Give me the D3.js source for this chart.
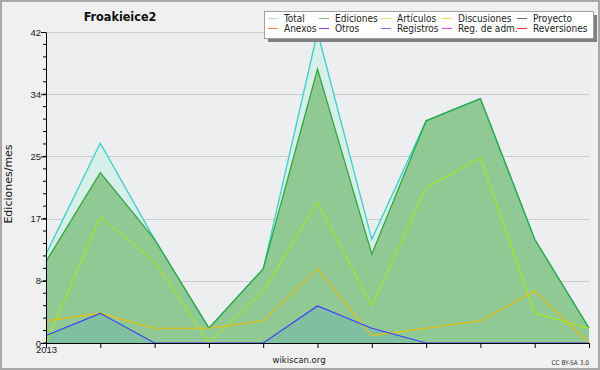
<!DOCTYPE html>
<html>
<head>
<meta charset="utf-8">
<script src="https://cdn.jsdelivr.net/npm/d3@7"></script>
<style>
body { margin:0; background:#f0f0f0; }
svg { display:block; font-family:'DejaVu Sans Condensed', 'DejaVu Sans', sans-serif; }
</style>
</head>
<body>
<svg id="chart" width="600" height="370"></svg>
<script>

// data
var months = ['2013','','','','','','','','','',''];
var total = [12, 27, 14, 2, 10, 42, 14, 30, 33, 14, 2];
var ediciones = [11, 23, 14, 2, 10, 37, 12, 30, 33, 14, 2];
var articulos = [0, 17, 11, 0, 7, 19, 5, 21, 25, 4, 2];
var discusiones = [3, 4, 2, 2, 3, 10, 1, 2, 3, 7, 0];
var registros = [1, 4, 0, 0, 0, 5, 2, 0, 0, 0, 0];
var yTickValues = [0, 8.4, 16.8, 25.2, 33.6, 42];
var yTickLabels = ['0', '8', '17', '25', '34', '42'];
var legendNames = ['Total','Ediciones','Artículos','Discusiones','Proyecto',
                   'Anexos','Otros','Registros','Reg. de adm.','Reversiones'];
var legendColors = ['#a8e4e0','#80c080','#c8f070','#ffd050','#707070',
                    '#ff8040','#8040e0','#7070ff','#e040e0','#ff3030'];

// positions
var plotLeft = 46;
var plotRight = 589;
var plotTop = 32;
var plotBottom = 343;

var svg = d3.select('#chart');

var x = d3.scaleLinear()
          .domain([0, months.length-1])
          .range([plotLeft, plotRight]);
var y = d3.scaleLinear()
          .domain([0, 42])
          .range([plotBottom, plotTop]);

// background + frame
svg.append('rect')
   .attr('x',1).attr('y',1)
   .attr('width',598).attr('height',368)
   .attr('fill','#f0f0f0')
   .attr('stroke','#a8a8a8')
   .attr('stroke-width',2);

svg.append('rect')
   .attr('x',plotLeft).attr('y',plotTop)
   .attr('width',plotRight-plotLeft).attr('height',plotBottom-plotTop)
   .attr('fill','#edeef0');

// grid
svg.append('g')
   .selectAll('line')
   .data(yTickValues)
   .enter().append('line')
   .attr('x1',plotLeft).attr('x2',plotRight)
   .attr('y1',function(d){ return Math.round(y(d))+0.5 })
   .attr('y2',function(d){ return Math.round(y(d))+0.5 })
   .attr('stroke','#cccccc')
   .attr('stroke-width',1);

var area = function(vals){
  return d3.area()
           .x(function(d,i){ return x(i) })
           .y0(plotBottom)
           .y1(function(d){ return y(d) })(vals);
};
var line = function(vals){
  return d3.line()
           .x(function(d,i){ return x(i) })
           .y(function(d){ return y(d) })(vals);
};

// areas
svg.append('path').attr('d',area(total)).attr('fill','#d6efe9');
svg.append('path').attr('d',area(ediciones)).attr('fill','#91c994');
svg.append('path').attr('d',area(registros)).attr('fill','#80bfa0');

// lines
svg.append('path').attr('d',line(total))
   .attr('fill','none').attr('stroke','#3cd0c8').attr('stroke-width',1.3);
svg.append('path').attr('d',line(ediciones))
   .attr('fill','none').attr('stroke','#30a640').attr('stroke-width',1.3);
svg.append('path').attr('d',line(articulos))
   .attr('fill','none').attr('stroke','#a8f000').attr('stroke-width',1);
svg.append('path').attr('d',line(discusiones))
   .attr('fill','none').attr('stroke','#f0c000').attr('stroke-width',1.1);
svg.append('path').attr('d',line(registros))
   .attr('fill','none').attr('stroke','#3c3cff').attr('stroke-width',1.1);

// axes
var yAxis = d3.axisLeft(y)
              .tickValues(yTickValues)
              .tickFormat(function(d,i){ return yTickLabels[i] })
              .tickSize(5)
              .tickSizeOuter(0);
var yg = svg.append('g')
            .attr('transform','translate('+plotLeft+',0)')
            .call(yAxis);
yg.selectAll('text').style('font-size','9.5px').attr('fill','#222').attr('x',-5);

var minorTicks = d3.range(0, 42, 1.68);
svg.append('g')
   .selectAll('line')
   .data(minorTicks)
   .enter().append('line')
   .attr('x1',plotLeft-3).attr('x2',plotLeft)
   .attr('y1',function(d){ return y(d) })
   .attr('y2',function(d){ return y(d) })
   .attr('stroke','#000');

var xAxis = d3.axisBottom(x)
              .tickValues(d3.range(months.length))
              .tickFormat(function(d){ return months[d] })
              .tickSize(5)
              .tickSizeOuter(0);
var xg = svg.append('g')
            .attr('transform','translate(0,'+plotBottom+')')
            .call(xAxis);
xg.selectAll('text').style('font-size','9.5px').attr('fill','#222').attr('y',3);
xg.selectAll('.tick line').attr('stroke','#000');
yg.selectAll('.tick line').attr('stroke','#000');
xg.select('.domain').attr('stroke','#000');
yg.select('.domain').attr('stroke','#000');

// title
svg.append('text')
   .text('Froakieice2')
   .attr('x',120)
   .attr('y',21)
   .attr('text-anchor','middle')
   .style('font-size','12.5px')
   .style('font-weight','bold')
   .attr('fill','#111');

// y label
svg.append('text')
   .text('Ediciones/mes')
   .attr('transform','translate(12,184) rotate(-90)')
   .attr('text-anchor','middle')
   .style('font-family','DejaVu Sans')
   .style('font-size','11px')
   .attr('fill','#111');

// footer
svg.append('text')
   .text('wikiscan.org')
   .attr('x',299)
   .attr('y',363)
   .attr('text-anchor','middle')
   .style('font-size','9.5px')
   .attr('fill','#222');
svg.append('text')
   .text('CC BY-SA 3.0')
   .attr('x',589)
   .attr('y',365)
   .attr('text-anchor','end')
   .style('font-size','6.5px')
   .attr('fill','#333');

// legend
var legend = svg.append('g');
legend.append('rect')
      .attr('x',268).attr('y',15)
      .attr('width',329).attr('height',27)
      .attr('fill','#808080');
legend.append('rect')
      .attr('x',264.5).attr('y',11.5)
      .attr('width',329).attr('height',27)
      .attr('fill','#ffffff')
      .attr('stroke','#a0a0a0')
      .attr('stroke-width',1);

var colX = [268, 319, 381, 442, 517];
var rowY = [18, 28];
legendNames.forEach(function(name,i){
  var cx = colX[i % 5];
  var cy = rowY[Math.floor(i / 5)];
  legend.append('line')
        .attr('x1',cx).attr('x2',cx+10)
        .attr('y1',cy+0.5).attr('y2',cy+0.5)
        .attr('stroke',legendColors[i])
        .attr('stroke-width',1);
  legend.append('text')
        .text(name)
        .attr('x',cx+16)
        .attr('y',cy+4)
        .style('font-size','10px')
        .attr('fill','#222');
});

</script>
</body>
</html>
